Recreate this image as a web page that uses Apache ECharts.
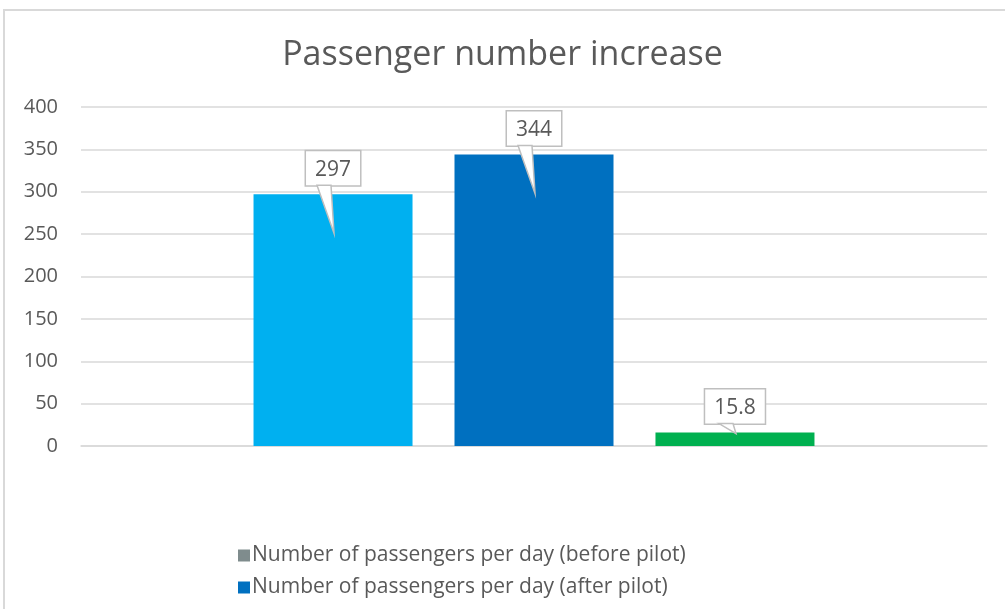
<!DOCTYPE html>
<html>
<head>
    <meta charset="utf-8">
    <title>Passenger number increase</title>
    <script src="https://cdn.jsdelivr.net/npm/echarts@6/dist/echarts.min.js"></script>
    <style>
        html, body { margin: 0; padding: 0; background: #fff; overflow: hidden; }
        #frame { position: absolute; left: 3px; top: 9px; width: 1020px; height: 620px;
                 border-left: 2px solid #D9D9D9; border-top: 2px solid #D9D9D9; pointer-events: none; }
    </style>
</head>
<body>
<div id="main" style="width: 1005px;height:609px;"></div>
<div id="frame"></div>
<script type="text/javascript">
    // data
    var categories = ['Passengers'];
    var seriesNames = [
        'Number of passengers per day (before pilot)',
        'Number of passengers per day (after pilot)',
        'Increase'
    ];
    var beforePilot = [297];
    var afterPilot = [344];
    var increase = [15.8];
    var yTicks = [0, 50, 100, 150, 200, 250, 300, 350, 400];

    var barColors = ['#00B0F0', '#0070C0', '#00B050'];
    var legendColors = ['#7F8C8D', '#0070C0', '#00B050'];
    var textColor = '#595959';
    var font = '"Open Sans", "Liberation Sans", sans-serif';
    var barW = 159, barGapPx = 42, labelDist = 9;

    var myChart = echarts.init(document.getElementById('main'));

    function makeSeries(idx, values) {
        return {
            name: seriesNames[idx],
            type: 'bar',
            barWidth: barW,
            barGap: (barGapPx / barW * 100).toFixed(1) + '%',
            itemStyle: { color: legendColors[idx] },
            data: values.map(function (v) {
                return { value: v, itemStyle: { color: barColors[idx] } };
            }),
            label: {
                show: true,
                position: 'top',
                distance: labelDist,
                fontFamily: font,
                fontSize: 21,
                color: textColor,
                backgroundColor: '#fff',
                borderColor: '#BFBFBF',
                borderWidth: 1.5,
                padding: [8, 9, 5, 9]
            }
        };
    }

    // callout pointers (wedge from the label box down into each bar)
    var pointerData = [];
    [beforePilot, afterPilot, increase].forEach(function (vals, s) {
        vals.forEach(function (v, c) { pointerData.push([c, v, s]); });
    });

    function renderPointer(params, api) {
        var pt = api.coord([api.value(0), api.value(1)]);
        var zero = api.coord([api.value(0), 0]);
        var cx = pt[0] + (api.value(2) - 1) * (barW + barGapPx);
        var top = pt[1];
        var base = top - labelDist;
        var depth = (zero[1] - top) > 60 ? 39 : 1;
        return {
            type: 'polygon',
            shape: { points: [[cx - 16, base], [cx - 2, base], [cx + 1, top + depth]] },
            style: { fill: '#fff', stroke: '#BFBFBF', lineWidth: 1.5 }
        };
    }

    var option = {
        animation: false,
        title: {
            text: 'Passenger number increase',
            left: 'center',
            top: 33,
            textStyle: {
                fontFamily: font,
                fontWeight: 'normal',
                fontSize: 34,
                color: textColor
            }
        },
        legend: {
            data: [seriesNames[0], seriesNames[1]],
            orient: 'vertical',
            left: 233,
            top: 540,
            itemWidth: 12,
            itemHeight: 12,
            itemGap: 11,
            icon: 'rect',
            textStyle: { fontFamily: font, fontSize: 21, color: textColor, padding: [0, 0, 0, -3] }
        },
        grid: {
            left: 81,
            right: 18,
            top: 107,
            bottom: 163,
            containLabel: false
        },
        xAxis: {
            type: 'category',
            data: categories,
            axisLine: { lineStyle: { color: '#D9D9D9', width: 1.5 } },
            axisTick: { show: false },
            axisLabel: { show: false }
        },
        yAxis: {
            type: 'value',
            min: yTicks[0],
            max: yTicks[yTicks.length - 1],
            interval: 50,
            axisLine: { show: false },
            axisTick: { show: false },
            axisLabel: { fontFamily: font, fontSize: 20, color: textColor, margin: 23 },
            splitLine: { lineStyle: { color: '#D9D9D9', width: 1.5 } }
        },
        series: [
            makeSeries(0, beforePilot),
            makeSeries(1, afterPilot),
            makeSeries(2, increase),
            {
                name: 'pointers',
                type: 'custom',
                silent: true,
                clip: false,
                z: 3,
                renderItem: renderPointer,
                encode: { x: 0, y: 1 },
                data: pointerData
            }
        ]
    };
    myChart.setOption(option);
</script>
</body>
</html>
